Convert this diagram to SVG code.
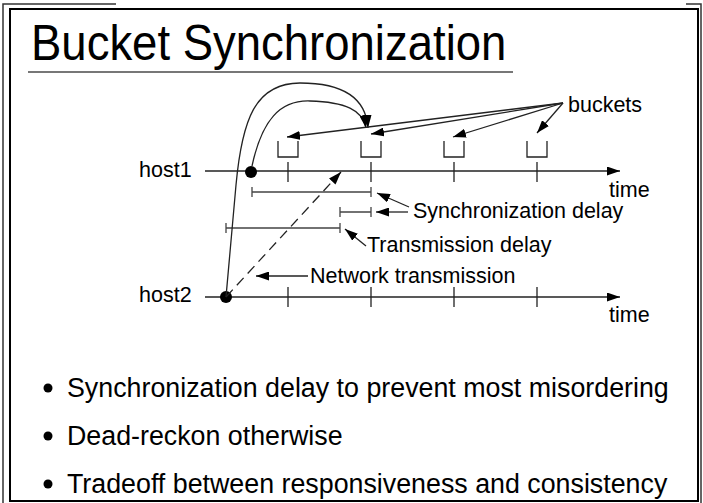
<svg xmlns="http://www.w3.org/2000/svg" width="703" height="503" viewBox="0 0 703 503">
<style>
text{font-family:"Liberation Sans",Arial,sans-serif;fill:#000}
.lbl{font-size:21.5px}
.bul{font-size:26.8px}
.ln{stroke:#222;stroke-width:1.3;fill:none}
.ms{stroke:#444;stroke-width:1.3;fill:none}
</style>
<defs>
<marker id="ah" viewBox="0 0 13 9" refX="13" refY="4.5" markerWidth="13" markerHeight="9" markerUnits="userSpaceOnUse" orient="auto">
<path d="M0,0 L13,4.5 L0,9 Z" fill="#000"/>
</marker>
</defs>
<rect width="703" height="503" fill="#fff"/>
<g id="frame" fill="none">
<path d="M3,503 V4 H116" stroke="#333" stroke-width="1.5"/>
<path d="M686,4 H701 V503" stroke="#333" stroke-width="1.5"/>
<rect x="10" y="9" width="688" height="492" stroke="#000" stroke-width="2"/>
</g>
<g id="title">
<text transform="translate(31,60) scale(1,1.09)" x="0" y="0" font-size="45.5">Bucket Synchronization</text>
<line x1="28" y1="72" x2="513" y2="72" stroke="#777" stroke-width="2"/>
</g>
<g id="host1">
<text class="lbl" x="139" y="177">host1</text>
<line class="ln" x1="205" y1="171" x2="620" y2="171" marker-end="url(#ah)"/>
<path class="ln" d="M288,162V182M371,162V182M454,162V182M537,162V182"/>
<circle cx="251" cy="172" r="6"/>
<text class="lbl" x="609" y="197">time</text>
</g>
<g id="buckets">
<path class="ln" d="M278,141V157H298V141M361,141V157H381V141M444,141V157H464V141M527,141V157H547V141"/>
<text class="lbl" x="568" y="112">buckets</text>
</g>
<g id="host2">
<text class="lbl" x="139" y="302">host2</text>
<line class="ln" x1="205" y1="297" x2="620" y2="297" marker-end="url(#ah)"/>
<path class="ln" d="M288,287V307M371,287V307M454,287V307M537,287V307"/>
<circle cx="226" cy="297" r="6"/>
<text class="lbl" x="609" y="322">time</text>
</g>
<g id="measures">
<path class="ms" d="M252,192H371M252,187V197M371,187V197"/>
<path class="ms" d="M340,212H371M340,207V217M371,207V217"/>
<path class="ms" d="M226,228H340M226,223V233M340,223V233"/>
<text class="lbl" x="413" y="218">Synchronization delay</text>
<text class="lbl" x="367" y="252">Transmission delay</text>
<text class="lbl" x="310" y="283">Network transmission</text>
</g>
<g id="connectors">
<path class="ln" d="M226,297 L236,185 C242,120 255,83 300,83 C345,83 366,100 368,128" marker-end="url(#ah)"/>
<path class="ln" d="M252,166 C262,120 280,100 310,101 C345,102 363,110 366,128" marker-end="url(#ah)"/>
<line class="ln" x1="226" y1="297" x2="341" y2="172" stroke-dasharray="10,6" marker-end="url(#ah)"/>
<line class="ln" x1="563" y1="103" x2="287" y2="137" marker-end="url(#ah)"/>
<line class="ln" x1="563" y1="103" x2="371" y2="134" marker-end="url(#ah)"/>
<line class="ln" x1="563" y1="103" x2="453" y2="137" marker-end="url(#ah)"/>
<line class="ln" x1="563" y1="103" x2="537" y2="133" marker-end="url(#ah)"/>
<line class="ln" x1="409" y1="207" x2="377" y2="193" marker-end="url(#ah)"/>
<line class="ln" x1="408" y1="212" x2="376" y2="212" marker-end="url(#ah)"/>
<line class="ln" x1="366" y1="246" x2="345" y2="229" marker-end="url(#ah)"/>
<line class="ln" x1="308" y1="276" x2="256" y2="276" marker-end="url(#ah)"/>
</g>
<g id="bullets">
<circle cx="48" cy="388" r="4.5"/>
<text class="bul" x="67" y="397">Synchronization delay to prevent most misordering</text>
<circle cx="48" cy="436" r="4.5"/>
<text class="bul" x="67" y="445">Dead-reckon otherwise</text>
<circle cx="48" cy="484" r="4.5"/>
<text class="bul" x="67" y="493">Tradeoff between responsiveness and consistency</text>
</g>
</svg>
